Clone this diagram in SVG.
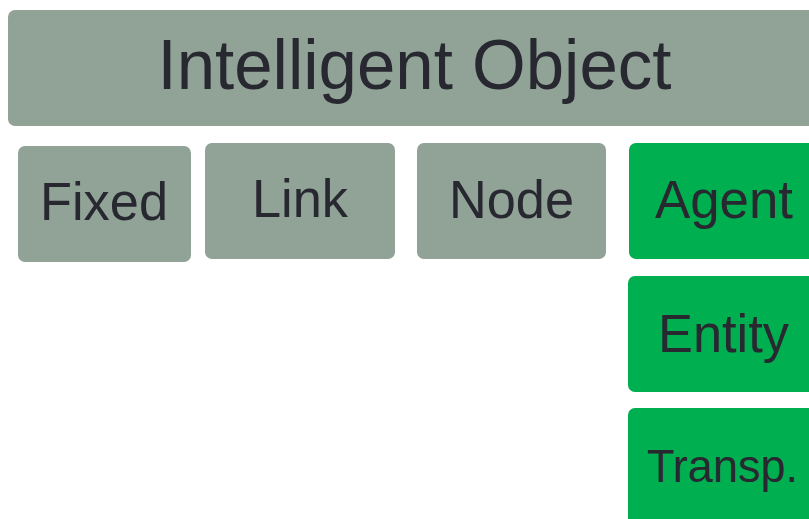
<svg xmlns="http://www.w3.org/2000/svg" width="809" height="519" viewBox="0 0 809 519">
<style>
.g{fill:#91a397}
.gr{fill:#00af50}
text{font-family:"Liberation Sans",Arial,sans-serif;fill:#272830;text-anchor:middle}
.l{font-size:53px}
</style>
<rect width="809" height="519" fill="#ffffff"/>
<g id="intelligent-object">
<rect class="g" x="8" y="10" width="814" height="116" rx="7"/>
<text x="414.5" y="89" style="font-size:70px" textLength="514" lengthAdjust="spacingAndGlyphs">Intelligent Object</text>
</g>
<g id="fixed">
<rect class="g" x="18" y="146" width="173" height="116" rx="7"/>
<text class="l" x="104" y="220" textLength="128" lengthAdjust="spacingAndGlyphs">Fixed</text>
</g>
<g id="link">
<rect class="g" x="205" y="143" width="190" height="116" rx="7"/>
<text class="l" x="300" y="217" textLength="96" lengthAdjust="spacingAndGlyphs">Link</text>
</g>
<g id="node">
<rect class="g" x="417" y="143" width="189" height="116" rx="7"/>
<text class="l" x="511.5" y="218" textLength="125" lengthAdjust="spacingAndGlyphs">Node</text>
</g>
<g id="agent">
<rect class="gr" x="629" y="143" width="190" height="116" rx="7"/>
<text class="l" x="724" y="218" textLength="138" lengthAdjust="spacingAndGlyphs">Agent</text>
</g>
<g id="entity">
<rect class="gr" x="628" y="276" width="190" height="116" rx="7"/>
<text class="l" x="723.5" y="352" textLength="131" lengthAdjust="spacingAndGlyphs">Entity</text>
</g>
<g id="transp">
<rect class="gr" x="628" y="408" width="190" height="130" rx="7"/>
<text x="722.5" y="482" style="font-size:46px" textLength="151" lengthAdjust="spacingAndGlyphs">Transp.</text>
</g>
<g id="connectors"/>
</svg>
